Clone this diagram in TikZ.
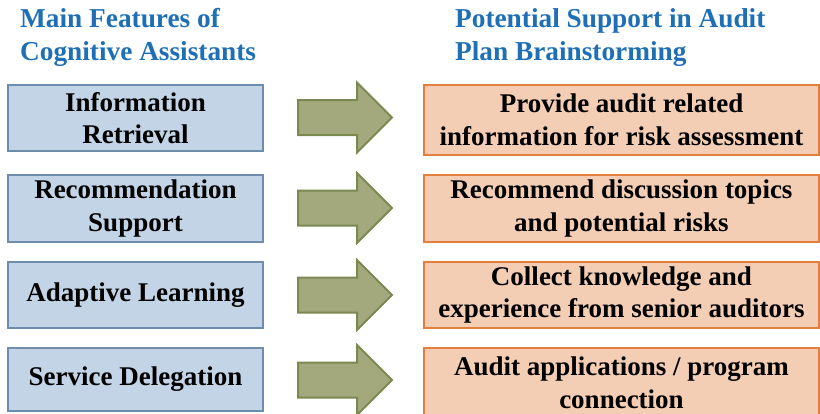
\documentclass[tikz,border=0pt]{standalone}
\usepackage{fontspec}
\setmainfont{Liberation Serif}[BoldFont={Liberation Serif Bold}]
\definecolor{hdr}{HTML}{1F6FB6}
\definecolor{lfill}{HTML}{C2D4E6}
\definecolor{ldraw}{HTML}{6E8CAB}
\definecolor{rfill}{HTML}{F3CDB4}
\definecolor{rdraw}{HTML}{E27F3E}
\definecolor{afill}{HTML}{A3A97C}
\definecolor{adraw}{HTML}{7B8850}
\begin{document}
\begin{tikzpicture}[x=1pt,y=1pt,
  txt/.style={font=\fontsize{27}{32.5}\selectfont\bfseries, align=center, inner sep=0pt},
  hdrtxt/.style={font=\fontsize{27.3}{32.5}\selectfont\bfseries, text=hdr, anchor=base west, inner sep=0pt},
  lbox/.style={txt, draw=ldraw, fill=lfill, line width=2.5pt, minimum width=255pt},
  rbox/.style={txt, draw=rdraw, fill=rfill, line width=2.5pt, minimum width=395pt},
  barrow/.pic={\filldraw[fill=afill, draw=adraw, line width=2pt, line join=miter]
     (-47,-17.5) -- (12,-17.5) -- (12,-35) -- (47,0) -- (12,35) -- (12,17.5) -- (-47,17.5) -- cycle;}
]
\useasboundingbox (0,0) rectangle (820,-413);
\clip (0,0) rectangle (820,-413);

% headers
\node[hdrtxt] (h1a) at (20,-27) {Main Features of};
\node[hdrtxt] (h1b) at (20,-60) {Cognitive Assistants};
\node[hdrtxt] (h2a) at (455,-27) {Potential Support in Audit};
\node[hdrtxt] (h2b) at (455,-60) {Plan Brainstorming};

% left boxes
\node[lbox, minimum height=66pt] (l1) at (135.5,-118) {Information\\Retrieval};
\node[lbox, minimum height=67pt] (l2) at (135.5,-208.5) {Recommendation\\Support};
\node[lbox, minimum height=66pt] (l3) at (135.5,-295) {Adaptive Learning};
\node[lbox, minimum height=63pt] (l4) at (135.5,-379.5) {Service Delegation};

% right boxes
\node[rbox, minimum height=70pt] (r1) at (621.5,-120) {Provide audit related\\information for risk assessment};
\node[rbox, minimum height=67pt] (r2) at (621.5,-208.5) {Recommend discussion topics\\and potential risks};
\node[rbox, minimum height=66pt] (r3) at (621.5,-295) {Collect knowledge and\\experience from senior auditors};
\node[rbox, minimum height=70pt] (r4) at (621.5,-383) {Audit applications / program\\connection};

% block arrows
\pic (a1) at (345,-117.5) {barrow};
\pic (a2) at (345,-208) {barrow};
\pic (a3) at (345,-295) {barrow};
\pic (a4) at (345,-380) {barrow};
\end{tikzpicture}
\end{document}
